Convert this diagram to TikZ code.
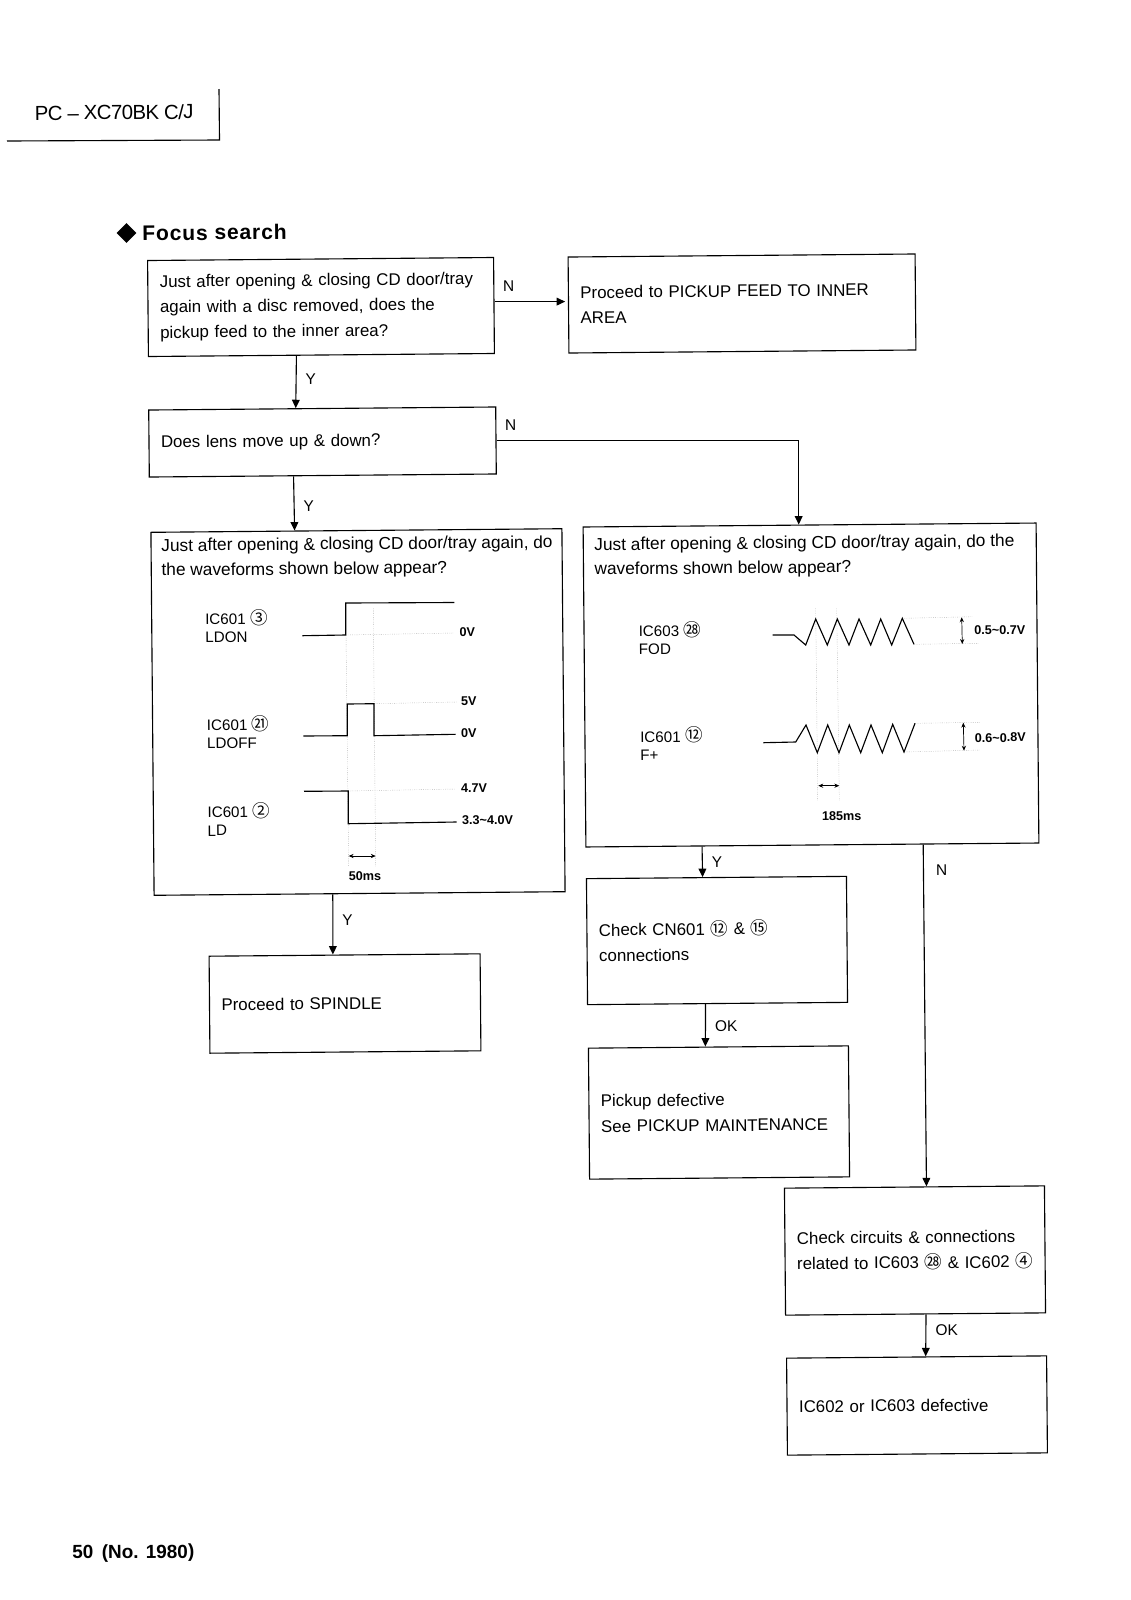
\documentclass[tikz,border=0pt]{standalone}
\usepackage{fontspec}
\setmainfont{Liberation Sans}
\newfontfamily\circfont{Noto Sans CJK JP}
\usetikzlibrary{arrows.meta,calc,shapes.geometric}
\newcommand{\cn}[1]{{\circfont\fontsize{12.5}{13}\selectfont #1}}
\newcommand{\pxu}{0.025cm}
\tikzset{
    flowbox/.style 2 args={draw,line width=0.8pt,inner xsep=0.3cm,inner ysep=0pt,
        minimum width=#1*\pxu,minimum height=#2*\pxu,text width=(#1-24)*\pxu,align=left,
        font=\fontsize{12}{18.1}\selectfont},
    boxtext/.style={anchor=north west,inner sep=0pt,align=left,
        font=\fontsize{12.3}{17.5}\selectfont},
    flowarrow/.style={line width=0.8pt,-{Triangle[length=6pt,width=5.5pt]}},
    edgelbl/.style={anchor=west,inner sep=0pt,xshift=9*\pxu,text height=7.8pt,text depth=0pt,
        font=\fontsize{11}{12}\selectfont},
    sidelbl/.style={anchor=south west,inner sep=0pt,xshift=8*\pxu,yshift=9*\pxu,
        text height=7.8pt,text depth=0pt,font=\fontsize{11}{12}\selectfont},
    siglbl/.style={anchor=west,inner sep=0pt,align=left,font=\fontsize{10.8}{12.9}\selectfont},
    vlbl/.style={anchor=west,inner sep=0pt,text height=6.5pt,text depth=0pt,
        font=\fontsize{9}{10}\bfseries\selectfont},
    wave/.style={line width=0.8pt},
    guide/.style={densely dotted,line width=0.3pt,black!45},
    span/.style={line width=0.5pt,{Stealth[length=3.5pt,width=3pt]}-{Stealth[length=3.5pt,width=3pt]}},
}
\begin{document}
\begin{tikzpicture}[x=\pxu,y=-\pxu,every node/.style={rotate=0.5}]
    \useasboundingbox (0,0) rectangle (1131,1600);
    %% page header
    \draw[line width=0.8pt] (219,89) -- (219.5,140) -- (7,141);
    \node[anchor=west,inner sep=0pt,font=\fontsize{14.5}{16}\selectfont] (model) at (34.5,113) {\addfontfeature{LetterSpace=-3}PC\ -- XC70BK C/J};
    \node[diamond,fill=black,inner sep=0pt,minimum size=20*\pxu] (mark) at (126.5,233) {};
    \node[anchor=west,inner sep=0pt,font=\fontsize{15}{16}\bfseries\selectfont] (title) at (142,233)
        {\addfontfeature{LetterSpace=4}Focus search};
    \node[anchor=west,inner sep=0pt,font=\fontsize{13.5}{16}\bfseries\selectfont] (page) at (72,1554) {50\, (No. 1980)};
    %% boxes
    \node[flowbox={346}{96}] (feed) at (321,307) {Just after opening \& closing CD door/tray\\again with a disc removed, does the\\pickup feed to the inner area?};
    \node[flowbox={347}{96}] (inner) at (742,303.5) {Proceed to PICKUP FEED TO INNER\\AREA};
    \node[flowbox={347}{67}] (lens) at (322.5,442) {Does lens move up \& down?};
    \node[flowbox={411}{363}] (wavel) at (358,712) {};
    \node[flowbox={453}{320}] (waver) at (811,685) {};
    \node[flowbox={271}{97}] (spindle) at (345,1003.5) {Proceed to SPINDLE};
    \node[flowbox={260}{126}] (cn) at (717,940.5) {Check CN601 \cn{⑫} \& \cn{⑮}\\connections};
    \node[flowbox={260}{131}] (pickup) at (719,1112.5) {Pickup defective\\See PICKUP MAINTENANCE};
    \node[flowbox={260}{127}] (circuits) at (915,1250.5) {Check circuits \& connections\\related to IC603 \cn{㉘} \& IC602 \rlap{\cn{④}}};
    \node[flowbox={260}{97}] (defect) at (917,1405.5) {IC602 or IC603 defective};
    \node[boxtext] (wavelq) at (161,538.5) {Just after opening \& closing CD door/tray again, do\\the waveforms shown below appear?};
    \node[boxtext] (waverq) at (594,537.5) {Just after opening \& closing CD door/tray again, do the\\waveforms shown below appear?};
    %% connectors
    \coordinate (feedout) at ($(feed.north east)!.46!(feed.south east)$);
    \draw[flowarrow,shorten >=2pt] (feedout) -- (feedout -| inner.west) node[sidelbl,pos=0] (feedn) {N};
    \draw[flowarrow] ($(feed.south west)!.428!(feed.south east)$) -- ($(lens.north west)!.424!(lens.north east)$) node[edgelbl,pos=.45] (feedy) {Y};
    \draw[flowarrow] ($(lens.south west)!.416!(lens.south east)$) -- ($(wavel.north west)!.35!(wavel.north east)$) node[edgelbl,pos=.55] (lensy) {Y};
    \draw[flowarrow] (lens.east) -| ($(waver.north west)!.476!(waver.north east)$) node[sidelbl,pos=0] (lensn) {N};
    \draw[flowarrow] ($(wavel.south west)!.435!(wavel.south east)$) -- ($(spindle.north west)!.457!(spindle.north east)$) node[edgelbl,pos=.43] (wavely) {Y};
    \draw[flowarrow] ($(waver.south west)!.257!(waver.south east)$) -- ($(cn.north west)!.447!(cn.north east)$) node[edgelbl,pos=.5] (wavery) {Y};
    \draw[flowarrow] ($(waver.south west)!.744!(waver.south east)$) -- ($(circuits.north west)!.546!(circuits.north east)$) node[edgelbl,xshift=3*\pxu,pos=.076] (wavern) {N};
    \draw[flowarrow] ($(cn.south west)!.454!(cn.south east)$) -- ($(pickup.north west)!.45!(pickup.north east)$) node[edgelbl,pos=.52] (cnok) {OK};
    \draw[flowarrow] ($(circuits.south west)!.54!(circuits.south east)$) -- ($(defect.north west)!.535!(defect.north east)$) node[edgelbl,pos=.38] (circuitsok) {OK};
    %% left waveforms
    \node[siglbl] (ldon) at (205,626.5) {IC601 \cn{③}\\LDON};
    \node[siglbl] (ldoff) at (206.7,732.5) {IC601 \cn{㉑}\\LDOFF};
    \node[siglbl] (ld) at (207.3,819.5) {IC601 \cn{②}\\LD};
    \draw[guide] (346,635) -- (348.7,867);
    \draw[guide] (373.3,608) -- (375.7,867);
    \draw[guide] (346.7,635) -- (453.3,633);
    \draw[guide] (374,703.7) -- (456.7,702);
    \draw[guide] (348.3,791) -- (456,789);
    \draw[wave] (302.3,635.7) -- (345.7,635) -- (345.7,603) -- (454.3,602.5);
    \draw[wave] (303.3,736) -- (347.3,735.7) -- (347.3,704) -- (374,703.7) -- (374,735.7) -- (455.7,734.3);
    \draw[wave] (304,791.3) -- (348.3,791) -- (348.3,823.7) -- (456.7,822);
    \node[vlbl] (ldonv) at (459.3,632) {0V};
    \node[vlbl] (ldoffh) at (460.7,700.7) {5V};
    \node[vlbl] (ldoffv) at (460.7,733) {0V};
    \node[vlbl] (ldh) at (460.7,788) {4.7V};
    \node[vlbl] (ldv) at (461.7,820) {3.3\textasciitilde 4.0V};
    \draw[span] (348.7,856) -- (375.7,856);
    \node[vlbl,anchor=center] (ms) at (365,876) {50ms};
    %% right waveforms
    \node[siglbl] (fod) at (638.5,638.5) {IC603 \cn{㉘}\\FOD};
    \node[siglbl] (fplus) at (640,744) {IC601 \cn{⑫}\\F+};
    \draw[guide] (815.7,608) -- (817.7,800);
    \draw[guide] (836.7,608) -- (839.3,800);
    \draw[guide] (902.3,618.3) -- (973,616.7);
    \draw[guide] (914,644.3) -- (978,643.3);
    \draw[guide] (915,723.3) -- (980,722.3);
    \draw[guide] (904,752) -- (980,750);
    \draw[wave] (772.7,635) -- (794,635) -- (805.7,645) -- (815.7,619) -- (827.3,645) -- (837.3,619) -- (849,645) -- (859,619) -- (870.7,645) -- (880.7,619) -- (891.7,645) -- (902.3,618.3) -- (914,644.3);
    \draw[wave] (763.3,742.7) -- (795.7,742) -- (806,725) -- (817.3,752.7) -- (827.7,725) -- (839,752.7) -- (849.3,725) -- (860.7,752.7) -- (871,725) -- (882.3,752.7) -- (892.7,724.3) -- (904,752) -- (915,723.3);
    \draw[span] (961.7,617.3) -- (962.3,644);
    \draw[span] (963.3,722.7) -- (964,750.7);
    \node[vlbl] (fodv) at (974,630) {0.5\textasciitilde 0.7V};
    \node[vlbl] (fplusv) at (974.5,737.7) {0.6\textasciitilde 0.8V};
    \draw[span] (818.3,785.7) -- (839.3,785.7);
    \node[vlbl,anchor=center] (period) at (841.7,815.7) {185ms};
\end{tikzpicture}
\end{document}
